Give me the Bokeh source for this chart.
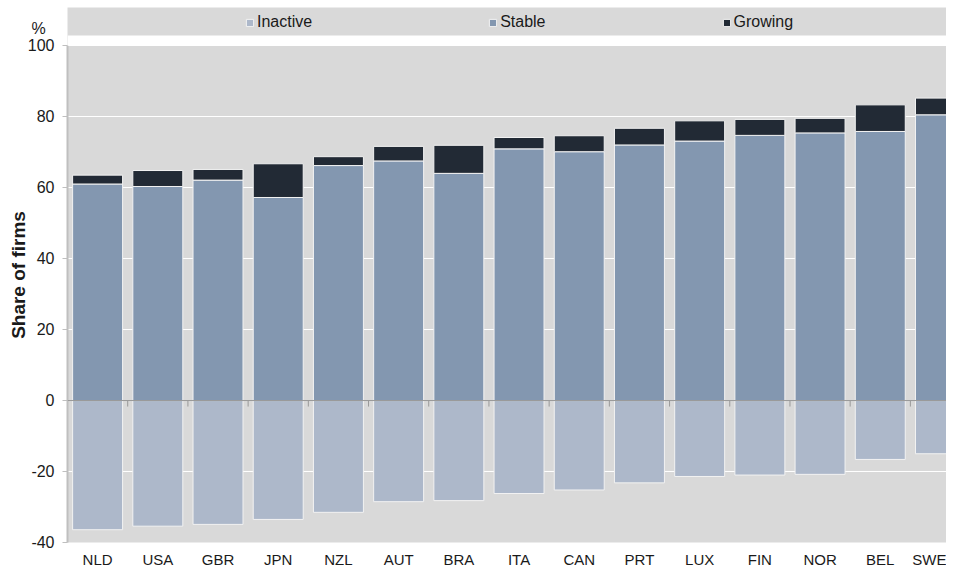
from bokeh.plotting import figure
from bokeh.models import (ColumnDataSource, Range1d, FixedTicker, Legend, LegendItem,
                          Span, BoxAnnotation)
from bokeh.embed import file_html
from bokeh.resources import INLINE

countries = ["NLD", "USA", "GBR", "JPN", "NZL", "AUT", "BRA", "ITA", "CAN", "PRT",
             "LUX", "FIN", "NOR", "BEL", "SWE"]
inactive = [-36.4, -35.4, -34.9, -33.5, -31.5, -28.5, -28.2, -26.2, -25.2, -23.2,
            -21.4, -21.0, -20.8, -16.6, -15.0]
stable = [61.0, 60.3, 62.1, 57.2, 66.2, 67.5, 64.0, 70.9, 70.1, 72.0,
          73.1, 74.7, 75.4, 75.8, 80.5]
growing = [2.5, 4.5, 3.0, 9.5, 2.5, 4.1, 7.9, 3.2, 4.5, 4.7,
           5.7, 4.5, 4.1, 7.5, 4.7]
y_ticks = [-40, -20, 0, 20, 40, 60, 80, 100]

FONT = "Liberation Sans"
C_INACTIVE = "#adb8ca"
C_STABLE = "#8397b0"
C_GROWING = "#222a35"
BG = "#d9d9d9"
TXT = "#1a1a1a"

idx = list(range(len(countries)))
source = ColumnDataSource(dict(x=idx, inactive=inactive, stable=stable, growing=growing))

p = figure(width=946, height=570, output_backend="svg", toolbar_location=None,
           x_range=Range1d(-0.5, 14.10), y_range=Range1d(-40, 110.73),
           min_border_left=67, min_border_right=0, min_border_top=7, min_border_bottom=20)
p.background_fill_color = BG
p.border_fill_color = "white"
p.outline_line_color = None

# bars
r_in = p.vbar(x="x", top="inactive", bottom=0, width=0.83, source=source,
              fill_color=C_INACTIVE, line_color="#f2f2f2", line_width=1)
r_stack = p.vbar_stack(["stable", "growing"], x="x", width=0.83, source=source,
                       fill_color=[C_STABLE, C_GROWING], line_color="#f2f2f2", line_width=1)

# zero line and category boundary ticks
p.add_layout(Span(location=0, dimension="width", line_color="#999999", line_width=1))
bounds = [i + 0.5 for i in idx[:-1]]
p.segment(x0=bounds, y0=[0] * len(bounds), x1=bounds, y1=[-1.7] * len(bounds),
          line_color="#999999", line_width=1)

# grid
p.xgrid.visible = False
p.ygrid.ticker = FixedTicker(ticks=y_ticks)
p.ygrid.grid_line_color = "white"
p.ygrid.grid_line_width = 1
p.ygrid.bounds = (-40, 100)

# y axis ("%" unit shown above the top tick label)
ya = p.yaxis[0]
ya.ticker = FixedTicker(ticks=y_ticks)
labels = {t: str(t) for t in y_ticks}
labels[y_ticks[-1]] = "%\u00a0\u00a0\n" + str(y_ticks[-1]) + "\n\u00a0"
ya.major_label_overrides = labels
ya.bounds = (-40, 100)
ya.axis_line_color = "#bfbfbf"
ya.axis_line_width = 2
ya.major_tick_line_color = "#bfbfbf"
ya.major_tick_out = 5
ya.major_tick_in = 0
ya.minor_tick_line_color = None
ya.major_label_standoff = 8
ya.major_label_text_font = FONT
ya.major_label_text_font_size = "16px"
ya.major_label_text_color = TXT
ya.major_label_text_line_height = 1.0
ya.axis_label = "Share of firms"
ya.axis_label_text_font = FONT
ya.axis_label_text_font_size = "19px"
ya.axis_label_text_font_style = "bold"
ya.axis_label_text_color = TXT
ya.axis_label_standoff = -4

# x axis
xa = p.xaxis[0]
xa.ticker = FixedTicker(ticks=idx)
xa.major_label_overrides = {i: c for i, c in zip(idx, countries)}
xa.axis_line_color = None
xa.major_tick_line_color = None
xa.major_tick_out = 0
xa.minor_tick_line_color = None
xa.minor_tick_out = 0
xa.major_label_standoff = 8
xa.major_label_text_font = FONT
xa.major_label_text_font_size = "15px"
xa.major_label_text_color = TXT

# white gap between legend band and plot
p.add_layout(BoxAnnotation(bottom=100, top=102.82, fill_color="white", fill_alpha=1,
                           line_alpha=0))

legend = Legend(items=[LegendItem(label="Inactive", renderers=[r_in]),
                       LegendItem(label="Stable", renderers=[r_stack[0]]),
                       LegendItem(label="Growing", renderers=[r_stack[1]])],
                orientation="horizontal", location=(174, 506), spacing=176,
                padding=4, margin=0, glyph_width=9, glyph_height=9, label_standoff=3,
                label_height=20, label_text_font=FONT, label_text_font_size="16px",
                label_text_color=TXT, background_fill_alpha=0, border_line_alpha=0)
p.add_layout(legend)

open("out.html", "w").write(file_html(p, INLINE))
